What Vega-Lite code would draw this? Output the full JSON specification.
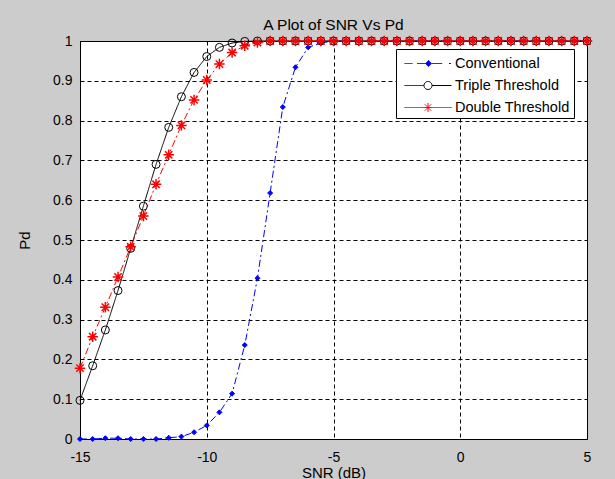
{
  "$schema": "https://vega.github.io/schema/vega-lite/v6.json",
  "width": 507,
  "height": 398,
  "autosize": {"type": "none"},
  "padding": {"left": 80, "top": 41, "right": 28, "bottom": 40},
  "background": "#cccccc",
  "title": {"text": "A Plot of SNR Vs Pd", "font": "Liberation Sans", "fontSize": 15.5, "fontWeight": "normal", "color": "#000000", "anchor": "middle", "offset": -1},
  "config": {
    "view": {"fill": "#ffffff", "stroke": "#000000", "strokeWidth": 1},
    "axis": {"labelFont": "Liberation Sans", "labelFontSize": 14, "labelColor": "#000000", "titleFont": "Liberation Sans", "titleFontSize": 15, "titleFontWeight": "normal", "titleColor": "#000000", "domain": false, "ticks": false, "grid": true, "gridColor": "#000000", "gridOpacity": 1, "gridDash": [4, 3], "gridWidth": 1}
  },
  "data": {"values": [
    {"snr": -15, "pd": 0, "series": "Conventional"},
    {"snr": -14.5, "pd": 0, "series": "Conventional"},
    {"snr": -14, "pd": 0.002, "series": "Conventional"},
    {"snr": -13.5, "pd": 0.002, "series": "Conventional"},
    {"snr": -13, "pd": 0, "series": "Conventional"},
    {"snr": -12.5, "pd": 0, "series": "Conventional"},
    {"snr": -12, "pd": 0, "series": "Conventional"},
    {"snr": -11.5, "pd": 0.003, "series": "Conventional"},
    {"snr": -11, "pd": 0.006, "series": "Conventional"},
    {"snr": -10.5, "pd": 0.017, "series": "Conventional"},
    {"snr": -10, "pd": 0.034, "series": "Conventional"},
    {"snr": -9.5, "pd": 0.067, "series": "Conventional"},
    {"snr": -9, "pd": 0.114, "series": "Conventional"},
    {"snr": -8.5, "pd": 0.236, "series": "Conventional"},
    {"snr": -8, "pd": 0.404, "series": "Conventional"},
    {"snr": -7.5, "pd": 0.618, "series": "Conventional"},
    {"snr": -7, "pd": 0.834, "series": "Conventional"},
    {"snr": -6.5, "pd": 0.934, "series": "Conventional"},
    {"snr": -6, "pd": 0.984, "series": "Conventional"},
    {"snr": -5.5, "pd": 0.995, "series": "Conventional"},
    {"snr": -5, "pd": 1, "series": "Conventional"},
    {"snr": -4.5, "pd": 1, "series": "Conventional"},
    {"snr": -4, "pd": 1, "series": "Conventional"},
    {"snr": -3.5, "pd": 1, "series": "Conventional"},
    {"snr": -3, "pd": 1, "series": "Conventional"},
    {"snr": -2.5, "pd": 1, "series": "Conventional"},
    {"snr": -2, "pd": 1, "series": "Conventional"},
    {"snr": -1.5, "pd": 1, "series": "Conventional"},
    {"snr": -1, "pd": 1, "series": "Conventional"},
    {"snr": -0.5, "pd": 1, "series": "Conventional"},
    {"snr": 0, "pd": 1, "series": "Conventional"},
    {"snr": 0.5, "pd": 1, "series": "Conventional"},
    {"snr": 1, "pd": 1, "series": "Conventional"},
    {"snr": 1.5, "pd": 1, "series": "Conventional"},
    {"snr": 2, "pd": 1, "series": "Conventional"},
    {"snr": 2.5, "pd": 1, "series": "Conventional"},
    {"snr": 3, "pd": 1, "series": "Conventional"},
    {"snr": 3.5, "pd": 1, "series": "Conventional"},
    {"snr": 4, "pd": 1, "series": "Conventional"},
    {"snr": 4.5, "pd": 1, "series": "Conventional"},
    {"snr": 5, "pd": 1, "series": "Conventional"},
    {"snr": -15, "pd": 0.097, "series": "Triple Threshold"},
    {"snr": -14.5, "pd": 0.184, "series": "Triple Threshold"},
    {"snr": -14, "pd": 0.274, "series": "Triple Threshold"},
    {"snr": -13.5, "pd": 0.373, "series": "Triple Threshold"},
    {"snr": -13, "pd": 0.479, "series": "Triple Threshold"},
    {"snr": -12.5, "pd": 0.585, "series": "Triple Threshold"},
    {"snr": -12, "pd": 0.69, "series": "Triple Threshold"},
    {"snr": -11.5, "pd": 0.783, "series": "Triple Threshold"},
    {"snr": -11, "pd": 0.86, "series": "Triple Threshold"},
    {"snr": -10.5, "pd": 0.921, "series": "Triple Threshold"},
    {"snr": -10, "pd": 0.961, "series": "Triple Threshold"},
    {"snr": -9.5, "pd": 0.984, "series": "Triple Threshold"},
    {"snr": -9, "pd": 0.995, "series": "Triple Threshold"},
    {"snr": -8.5, "pd": 0.999, "series": "Triple Threshold"},
    {"snr": -8, "pd": 1, "series": "Triple Threshold"},
    {"snr": -7.5, "pd": 1, "series": "Triple Threshold"},
    {"snr": -7, "pd": 1, "series": "Triple Threshold"},
    {"snr": -6.5, "pd": 1, "series": "Triple Threshold"},
    {"snr": -6, "pd": 1, "series": "Triple Threshold"},
    {"snr": -5.5, "pd": 1, "series": "Triple Threshold"},
    {"snr": -5, "pd": 1, "series": "Triple Threshold"},
    {"snr": -4.5, "pd": 1, "series": "Triple Threshold"},
    {"snr": -4, "pd": 1, "series": "Triple Threshold"},
    {"snr": -3.5, "pd": 1, "series": "Triple Threshold"},
    {"snr": -3, "pd": 1, "series": "Triple Threshold"},
    {"snr": -2.5, "pd": 1, "series": "Triple Threshold"},
    {"snr": -2, "pd": 1, "series": "Triple Threshold"},
    {"snr": -1.5, "pd": 1, "series": "Triple Threshold"},
    {"snr": -1, "pd": 1, "series": "Triple Threshold"},
    {"snr": -0.5, "pd": 1, "series": "Triple Threshold"},
    {"snr": 0, "pd": 1, "series": "Triple Threshold"},
    {"snr": 0.5, "pd": 1, "series": "Triple Threshold"},
    {"snr": 1, "pd": 1, "series": "Triple Threshold"},
    {"snr": 1.5, "pd": 1, "series": "Triple Threshold"},
    {"snr": 2, "pd": 1, "series": "Triple Threshold"},
    {"snr": 2.5, "pd": 1, "series": "Triple Threshold"},
    {"snr": 3, "pd": 1, "series": "Triple Threshold"},
    {"snr": 3.5, "pd": 1, "series": "Triple Threshold"},
    {"snr": 4, "pd": 1, "series": "Triple Threshold"},
    {"snr": 4.5, "pd": 1, "series": "Triple Threshold"},
    {"snr": 5, "pd": 1, "series": "Triple Threshold"},
    {"snr": -15, "pd": 0.178, "series": "Double Threshold"},
    {"snr": -14.5, "pd": 0.257, "series": "Double Threshold"},
    {"snr": -14, "pd": 0.331, "series": "Double Threshold"},
    {"snr": -13.5, "pd": 0.407, "series": "Double Threshold"},
    {"snr": -13, "pd": 0.483, "series": "Double Threshold"},
    {"snr": -12.5, "pd": 0.56, "series": "Double Threshold"},
    {"snr": -12, "pd": 0.64, "series": "Double Threshold"},
    {"snr": -11.5, "pd": 0.714, "series": "Double Threshold"},
    {"snr": -11, "pd": 0.788, "series": "Double Threshold"},
    {"snr": -10.5, "pd": 0.852, "series": "Double Threshold"},
    {"snr": -10, "pd": 0.902, "series": "Double Threshold"},
    {"snr": -9.5, "pd": 0.942, "series": "Double Threshold"},
    {"snr": -9, "pd": 0.971, "series": "Double Threshold"},
    {"snr": -8.5, "pd": 0.988, "series": "Double Threshold"},
    {"snr": -8, "pd": 0.996, "series": "Double Threshold"},
    {"snr": -7.5, "pd": 1, "series": "Double Threshold"},
    {"snr": -7, "pd": 1, "series": "Double Threshold"},
    {"snr": -6.5, "pd": 1, "series": "Double Threshold"},
    {"snr": -6, "pd": 1, "series": "Double Threshold"},
    {"snr": -5.5, "pd": 1, "series": "Double Threshold"},
    {"snr": -5, "pd": 1, "series": "Double Threshold"},
    {"snr": -4.5, "pd": 1, "series": "Double Threshold"},
    {"snr": -4, "pd": 1, "series": "Double Threshold"},
    {"snr": -3.5, "pd": 1, "series": "Double Threshold"},
    {"snr": -3, "pd": 1, "series": "Double Threshold"},
    {"snr": -2.5, "pd": 1, "series": "Double Threshold"},
    {"snr": -2, "pd": 1, "series": "Double Threshold"},
    {"snr": -1.5, "pd": 1, "series": "Double Threshold"},
    {"snr": -1, "pd": 1, "series": "Double Threshold"},
    {"snr": -0.5, "pd": 1, "series": "Double Threshold"},
    {"snr": 0, "pd": 1, "series": "Double Threshold"},
    {"snr": 0.5, "pd": 1, "series": "Double Threshold"},
    {"snr": 1, "pd": 1, "series": "Double Threshold"},
    {"snr": 1.5, "pd": 1, "series": "Double Threshold"},
    {"snr": 2, "pd": 1, "series": "Double Threshold"},
    {"snr": 2.5, "pd": 1, "series": "Double Threshold"},
    {"snr": 3, "pd": 1, "series": "Double Threshold"},
    {"snr": 3.5, "pd": 1, "series": "Double Threshold"},
    {"snr": 4, "pd": 1, "series": "Double Threshold"},
    {"snr": 4.5, "pd": 1, "series": "Double Threshold"},
    {"snr": 5, "pd": 1, "series": "Double Threshold"}
  ]},
  "encoding": {
    "x": {"field": "snr", "type": "quantitative", "scale": {"domain": [-15, 5], "nice": false, "zero": false},
      "axis": {"title": "SNR (dB)", "values": [-15, -10, -5, 0, 5], "labelExpr": "toString(datum.value)", "labelPadding": 11, "titlePadding": 1, "labelFlush": false}},
    "y": {"field": "pd", "type": "quantitative", "scale": {"domain": [0, 1], "nice": false},
      "axis": {"title": "Pd", "values": [0, 0.1, 0.2, 0.3, 0.4, 0.5, 0.6, 0.7, 0.8, 0.9, 1], "format": ".1~f", "labelPadding": 8, "titlePadding": 20, "labelFlush": false}},
    "color": {"field": "series", "type": "nominal",
      "scale": {"domain": ["Conventional", "Triple Threshold", "Double Threshold"], "range": ["#0000ff", "#000000", "#ff0000"]},
      "legend": {
        "title": null, "orient": "none", "legendX": 316, "legendY": 8,
        "fillColor": "#ffffff", "strokeColor": "#000000", "padding": 4,
        "symbolSize": 400, "labelOffset": 34, "rowPadding": 5,
        "labelFont": "Liberation Sans", "labelFontSize": 14.5, "labelColor": "#000000",
        "encode": {"symbols": {"update": {
          "shape": {"signal": "datum.value === 'Conventional' ? 'M-0.6,0L0.2,0M0.67,0L1.5,0M2.17,0L3.17,0M3.85,0L4.05,0M1.8,-0.3L2.1,0L1.8,0.3L1.5,0Z' : datum.value === 'Triple Threshold' ? 'M-0.6,0L1.35,0M2.15,0L4.1,0M1.35,0A0.4,0.4 0 1,0 2.15,0A0.4,0.4 0 1,0 1.35,0' : 'M-0.6,0L4.1,0M1.3,0L2.2,0M1.75,-0.45L1.75,0.45M1.43,-0.32L2.07,0.32M1.43,0.32L2.07,-0.32'"},
          "stroke": {"signal": "datum.value === 'Conventional' ? '#0000ff' : datum.value === 'Triple Threshold' ? '#000000' : '#ff0000'"},
          "fill": {"signal": "datum.value === 'Conventional' ? '#0000ff' : 'transparent'"},
          "strokeDash": {"value": [1, 0]},
          "strokeWidth": {"value": 1},
          "opacity": {"value": 1},
          "size": {"value": 400}
        }}}
      }
    }
  },
  "layer": [
    {
      "mark": {"type": "line", "strokeWidth": 1},
      "encoding": {
        "strokeDash": {"condition": {"test": "datum.series === 'Triple Threshold'", "value": [1, 0]}, "value": [7, 3, 2, 3]}
      }
    },
    {
      "mark": {"type": "point", "filled": false, "opacity": 1},
      "encoding": {
        "shape": {"condition": [{"test": "datum.series === 'Conventional'", "value": "diamond"}, {"test": "datum.series === 'Triple Threshold'", "value": "circle"}], "value": "M-1,0L1,0M0,-1L0,1M-0.7,-0.7L0.7,0.7M-0.7,0.7L0.7,-0.7"},
        "size": {"condition": [{"test": "datum.series === 'Conventional'", "value": 25}, {"test": "datum.series === 'Triple Threshold'", "value": 64}], "value": 110},
        "fill": {"condition": {"test": "datum.series === 'Conventional'", "value": "#0000ff"}, "value": "transparent"},
        "strokeWidth": {"condition": {"test": "datum.series === 'Double Threshold'", "value": 1.5}, "value": 1}
      }
    }
  ]
}
